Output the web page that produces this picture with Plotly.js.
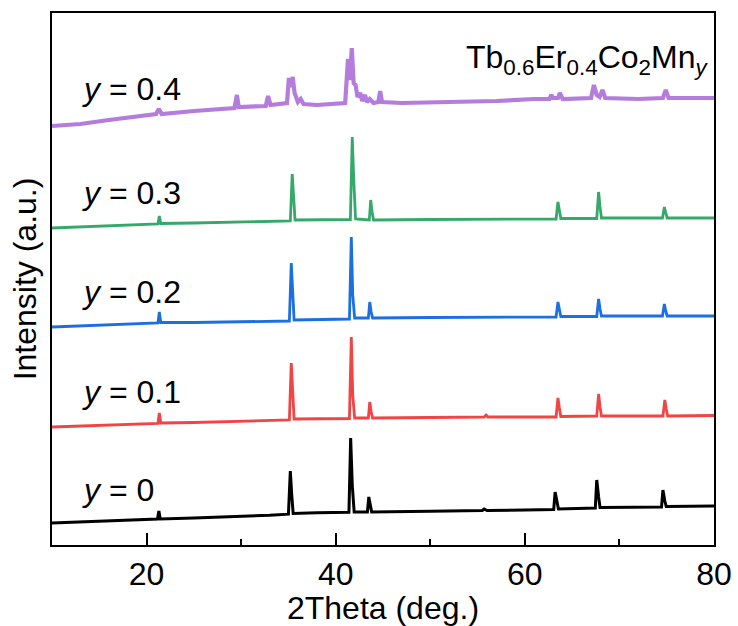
<!DOCTYPE html>
<html>
<head>
<meta charset="utf-8">
<script src="https://cdn.plot.ly/plotly-3.0.1.min.js"></script>
<style>html,body{margin:0;padding:0;background:#fff;}#chart{width:738px;height:626px;}</style>
</head>
<body>
<div id="chart"></div>
<script>
// Intensity values (offset stacked, arbitrary units)
const x0 = [10, 15, 20, 21.15, 21.3, 21.45, 25, 30, 33, 35.0, 35.2, 35.35, 35.5, 38, 41.4, 41.58, 41.75, 41.95, 43.35, 43.5, 43.65, 43.8, 50, 55.5, 55.7, 56, 60, 63.05, 63.2, 63.4, 63.55, 67.45, 67.6, 67.8, 67.95, 74.45, 74.6, 74.8, 74.95, 80];
const y0 = [22, 24, 25.5, 26, 34, 26, 27, 28.5, 29.7, 30.8, 74, 50, 31.5, 32.2, 32.8, 107, 60, 33, 33, 48, 38, 33, 33.8, 34.5, 36, 34.5, 35, 35.5, 53, 43, 36, 37, 65, 48, 37.5, 38, 55, 44, 38.5, 39];

const x1 = [10, 15, 20, 21.2, 21.35, 21.5, 25, 30, 35.1, 35.3, 35.45, 35.6, 41.45, 41.65, 41.8, 42.0, 43.45, 43.6, 43.75, 43.9, 50, 55.7, 55.9, 56.1, 63.3, 63.5, 63.65, 63.8, 67.6, 67.8, 67.95, 68.1, 74.6, 74.8, 74.95, 75.1, 80];
const y1 = [118, 119.5, 121, 121.5, 132, 122, 122.5, 123.5, 125, 182, 150, 126, 126.5, 208, 150, 127, 127, 143, 133, 127, 127.5, 128, 130, 128, 128, 147, 137, 128.5, 129, 151, 138, 129, 129, 145, 136, 129, 129.5];

const x2 = [10, 15, 20, 21.2, 21.35, 21.5, 25, 30, 35.1, 35.3, 35.45, 35.6, 41.45, 41.65, 41.8, 42.0, 43.45, 43.6, 43.75, 43.9, 50, 56, 63.3, 63.5, 63.65, 63.8, 67.6, 67.8, 67.95, 68.1, 74.55, 74.75, 74.9, 75.05, 80];
const y2 = [218, 219.5, 221, 222, 233, 222.5, 222.5, 223.5, 224, 282, 250, 225, 226, 308, 250, 227, 227, 243, 233, 227, 227.5, 228, 228, 243, 236, 228.5, 228.5, 246, 236, 229, 229, 241, 234, 229, 229];

const x3 = [10, 15, 20, 21.2, 21.35, 21.5, 25, 30, 35.2, 35.4, 35.55, 35.7, 41.55, 41.75, 41.9, 42.1, 43.55, 43.7, 43.85, 44.0, 50, 56, 63.3, 63.5, 63.65, 63.8, 67.6, 67.8, 67.95, 68.1, 74.55, 74.75, 74.9, 75.05, 80];
const y3 = [317, 318.5, 320, 321, 329, 321.5, 322, 323, 324, 371, 348, 325, 325.5, 408, 367, 326, 325, 345, 333, 325, 325.5, 326, 326, 343, 334, 326.5, 326.5, 353, 338, 327, 327, 338, 332, 327, 327];

const x4 = [10, 13, 16, 19, 21.0, 21.3, 21.6, 25, 29.3, 29.55, 29.75, 32.6, 32.85, 33.1, 34.85, 35.05, 35.25, 35.45, 35.65, 36.0, 36.3, 36.6, 38, 41.0, 41.3, 41.5, 41.7, 41.9, 42.1, 42.3, 42.6, 42.8, 43.1, 43.3, 43.6, 44.0, 44.5, 44.7, 44.9, 47, 52, 57, 61, 62.6, 62.8, 63.0, 63.5, 63.7, 64.0, 67.0, 67.3, 67.6, 67.9, 68.2, 68.5, 72, 74.6, 74.9, 75.2, 80];
const y4 = [419, 421, 425, 429, 431, 436, 431, 434, 437, 450, 438, 439, 449, 440, 442, 467, 458, 468, 452, 443, 446, 441, 440, 442, 486, 465, 497, 462, 460, 448, 452, 444, 450, 443, 446, 442, 443, 454, 443, 442, 443, 444, 446, 446, 450, 447, 447, 452, 446, 447, 460, 450, 448, 455, 447, 446, 447, 455, 447, 447];

const seriesX = [x0, x1, x2, x3, x4];
const seriesY = [y0, y1, y2, y3, y4];
const colors = ['#000000', '#f24444', '#1c6fe0', '#34a96a', '#b47ddd'];
const widths = [3, 2.8, 2.8, 2.8, 4.2];
const labels = ['0', '0.1', '0.2', '0.3', '0.4'];
const labelY = [55, 153, 253, 352, 456];
const xTickVals = [20, 40, 60, 80];

const FONT = 'Liberation Sans, Arial, sans-serif';

const traces = seriesX.map((xs, i) => ({
  x: xs, y: seriesY[i], type: 'scatter', mode: 'lines',
  line: {color: colors[i], width: widths[i]},
  hoverinfo: 'skip', showlegend: false
}));

const annotations = labels.map((lab, i) => ({
  x: 13, y: labelY[i], xref: 'x', yref: 'y', xanchor: 'left', yanchor: 'middle',
  text: '<i>y</i> = ' + lab, showarrow: false,
  font: {family: FONT, size: 32, color: '#000'}
}));
annotations.push({
  x: 79.6, y: 486, xref: 'x', yref: 'y', xanchor: 'right', yanchor: 'middle',
  text: 'Tb<sub>0.6</sub>Er<sub>0.4</sub>Co<sub>2</sub>Mn<sub><i>y</i></sub>', showarrow: false,
  font: {family: FONT, size: 32, color: '#000'}
});

const layout = {
  width: 738, height: 626,
  margin: {l: 52, r: 24, t: 13, b: 81},
  paper_bgcolor: '#fff', plot_bgcolor: '#fff',
  font: {family: FONT, size: 32, color: '#000'},
  xaxis: {
    range: [10, 80], tickvals: xTickVals, ticktext: xTickVals.map(String),
    ticks: 'inside', ticklen: 12, tickwidth: 2, tickcolor: '#000',
    minor: {tickvals: [30, 50, 70], ticks: 'inside', ticklen: 6, tickwidth: 2, tickcolor: '#000'},
    showline: true, linewidth: 2, linecolor: '#000', mirror: true,
    showgrid: false, zeroline: false,
    tickfont: {family: FONT, size: 32, color: '#000'},
    title: {text: '2Theta (deg.)', font: {family: FONT, size: 32, color: '#000'}, standoff: 2}
  },
  yaxis: {
    range: [0, 532], showticklabels: false, ticks: '',
    showline: true, linewidth: 2, linecolor: '#000', mirror: true,
    showgrid: false, zeroline: false,
    title: {text: 'Intensity (a.u.)', font: {family: FONT, size: 32, color: '#000'}, standoff: 4}
  },
  annotations: annotations
};

Plotly.newPlot('chart', traces, layout, {displayModeBar: false, staticPlot: true});
</script>
</body>
</html>
